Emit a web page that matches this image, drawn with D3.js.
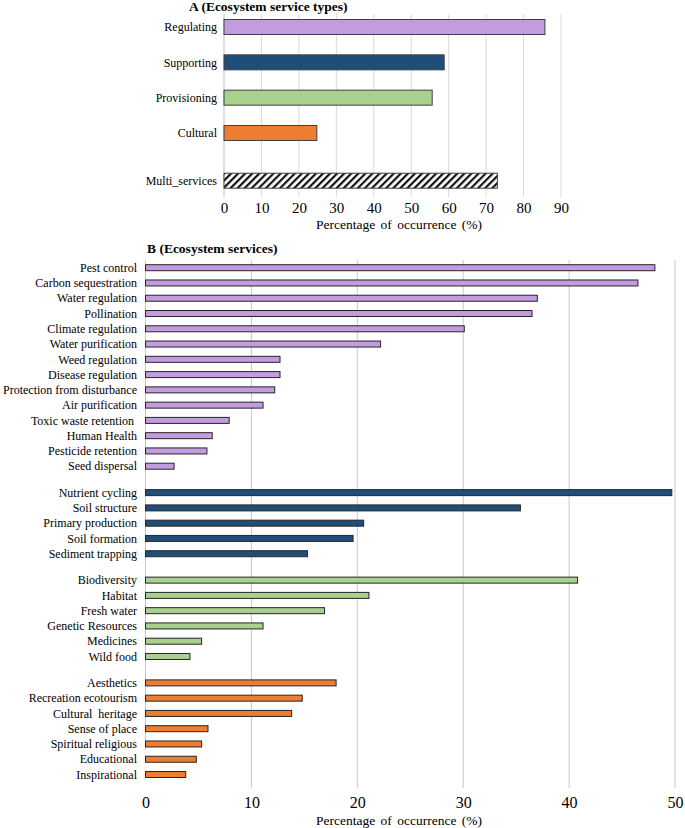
<!DOCTYPE html>
<html>
<head>
<meta charset="utf-8">
<script src="https://cdn.jsdelivr.net/npm/d3@7"></script>
<style>
  body { margin: 0; background: #fff; }
  svg { display: block; font-family: "Liberation Serif", "Times New Roman", serif; }
</style>
</head>
<body>
<svg id="chart" width="685" height="828" font-family="Liberation Serif"></svg>
<script>
// ---------- Panel A data ----------
const typeNames  = ["Regulating", "Supporting", "Provisioning", "Cultural", "Multi_services"];
const typeValues = [85.7, 58.8, 55.6, 24.8, 73.0];
const typeTicks  = [0, 10, 20, 30, 40, 50, 60, 70, 80, 90];

// ---------- Panel B data ----------
const regulatingNames  = ["Pest control", "Carbon sequestration", "Water regulation", "Pollination",
  "Climate regulation", "Water purification", "Weed regulation", "Disease regulation",
  "Protection from disturbance", "Air purification", "Toxic waste retention ", "Human Health",
  "Pesticide retention", "Seed dispersal"];
const regulatingValues = [48.1, 46.5, 37.0, 36.5, 30.1, 22.2, 12.7, 12.7, 12.2, 11.1, 7.9, 6.3, 5.8, 2.7];

const supportingNames  = ["Nutrient cycling", "Soil structure", "Primary production", "Soil formation", "Sediment trapping"];
const supportingValues = [49.7, 35.4, 20.6, 19.6, 15.3];

const provisioningNames  = ["Biodiversity", "Habitat", "Fresh water", "Genetic Resources", "Medicines", "Wild food"];
const provisioningValues = [40.8, 21.1, 16.9, 11.1, 5.3, 4.2];

const culturalNames  = ["Aesthetics", "Recreation ecotourism", "Cultural  heritage", "Sense of place",
  "Spiritual religious", "Educational", "Inspirational"];
const culturalValues = [18.0, 14.8, 13.8, 5.9, 5.3, 4.8, 3.8];

const serviceTicks = [0, 10, 20, 30, 40, 50];

// ---------- styles ----------
const FONT = "Liberation Serif";
const colorReg = "#C39BDF", colorSup = "#1F4E79", colorProv = "#A9D18E", colorCult = "#ED7D31";
const typeColors = [colorReg, colorSup, colorProv, colorCult, "url(#hatch)"];

const svg = d3.select("#chart");

// hatch pattern
const defs = svg.append("defs");
const pat = defs.append("pattern").attr("id", "hatch").attr("patternUnits", "userSpaceOnUse")
  .attr("width", 5).attr("height", 5).attr("patternTransform", "rotate(45)");
pat.append("rect").attr("width", 5).attr("height", 5).attr("fill", "#fff");
pat.append("rect").attr("x", 0).attr("y", 0).attr("width", 2.2).attr("height", 5).attr("fill", "#111");

// ================= Panel A =================
const xA = d3.scaleLinear().domain([0, 90]).range([224, 561]);
// slot positions: the last bar sits a bit further below
const slotA = typeNames.map((d, i) => i < 4 ? i : i + 0.35);
const yA = d3.scaleLinear().domain([0, 3]).range([27, 133]);
const gridTopA = 14, gridBotA = 197, barHA = 15;

const gA = svg.append("g");
gA.selectAll("line.grid").data(typeTicks).join("line")
  .attr("x1", d => xA(d)).attr("x2", d => xA(d))
  .attr("y1", gridTopA).attr("y2", gridBotA)
  .attr("stroke", d => d === 0 ? "#BFBFBF" : "#D9D9D9").attr("stroke-width", 1);

gA.selectAll("rect.bar").data(typeValues).join("rect")
  .attr("x", xA(0)).attr("y", (d, i) => yA(slotA[i]) - barHA / 2)
  .attr("width", d => xA(d) - xA(0)).attr("height", barHA)
  .attr("fill", (d, i) => typeColors[i])
  .attr("stroke", "#404040").attr("stroke-width", 1);

gA.selectAll("text.cat").data(typeNames).join("text")
  .attr("x", 217).attr("y", (d, i) => yA(slotA[i]))
  .attr("dy", "0.35em").attr("text-anchor", "end").attr("font-family", FONT)
  .attr("font-size", 12).attr("fill", "#000").text(d => d);

const axA = d3.axisBottom(xA).tickValues(typeTicks).tickSize(0).tickPadding(0);
const axAg = svg.append("g").attr("transform", `translate(0,${213})`).call(axA);
axAg.select(".domain").remove();
axAg.attr("font-family", FONT);
axAg.selectAll("text").attr("font-size", 15).attr("font-family", FONT).attr("fill", "#000").attr("dy", 0);

svg.append("text").attr("x", 399).attr("y", 229).attr("text-anchor", "middle").attr("font-family", FONT)
  .attr("font-size", 13.5).attr("word-spacing", 2).text("Percentage of occurrence (%)");

svg.append("text").attr("x", 189).attr("y", 11).attr("font-family", FONT)
  .attr("font-size", 13.5).attr("font-weight", "bold").text("A (Ecosystem service types)");

// ================= Panel B =================
const groups = [
  { names: regulatingNames, values: regulatingValues, color: colorReg },
  { names: supportingNames, values: supportingValues, color: colorSup },
  { names: provisioningNames, values: provisioningValues, color: colorProv },
  { names: culturalNames, values: culturalValues, color: colorCult }
];
const rows = [];
let slot = 0;
groups.forEach((g, gi) => {
  g.names.forEach((n, i) => {
    rows.push({ name: n, value: g.values[i], color: g.color, slot: slot + gi * 0.73 });
    slot += 1;
  });
});

const xB = d3.scaleLinear().domain([0, 50]).range([145.5, 675]);
const yB = d3.scaleLinear().domain([0, 1]).range([267.7, 267.7 + 15.27]);
const gridTopB = 260, gridBotB = 788, barHB = 6;

const gB = svg.append("g");
gB.selectAll("line.grid").data(serviceTicks).join("line")
  .attr("x1", d => xB(d)).attr("x2", d => xB(d))
  .attr("y1", gridTopB).attr("y2", d => d === 0 ? 750 : gridBotB)
  .attr("stroke", "#C8C8C8").attr("stroke-width", 1);

gB.selectAll("rect.bar").data(rows).join("rect")
  .attr("x", xB(0)).attr("y", d => yB(d.slot) - barHB / 2)
  .attr("width", d => xB(d.value) - xB(0)).attr("height", barHB)
  .attr("fill", d => d.color).attr("stroke", "#262626").attr("stroke-width", 1);

gB.selectAll("text.cat").data(rows).join("text")
  .attr("x", 137).attr("y", d => yB(d.slot))
  .attr("dy", "0.35em").attr("text-anchor", "end").attr("font-family", FONT)
  .attr("font-size", 12).attr("fill", "#000")
  .style("white-space", "pre").text(d => d.name);

const axB = d3.axisBottom(xB).tickValues(serviceTicks).tickSize(0).tickPadding(0);
const axBg = svg.append("g").attr("transform", `translate(0,${808})`).call(axB);
axBg.select(".domain").remove();
axBg.attr("font-family", FONT);
axBg.selectAll("text").attr("font-size", 16).attr("font-family", FONT).attr("fill", "#000").attr("dy", 0);

svg.append("text").attr("x", 399).attr("y", 825).attr("text-anchor", "middle").attr("font-family", FONT)
  .attr("font-size", 13.5).attr("word-spacing", 2).text("Percentage of occurrence (%)");

svg.append("text").attr("x", 147).attr("y", 252.5).attr("font-family", FONT)
  .attr("font-size", 13.5).attr("font-weight", "bold").text("B (Ecosystem services)");
</script>
</body>
</html>
